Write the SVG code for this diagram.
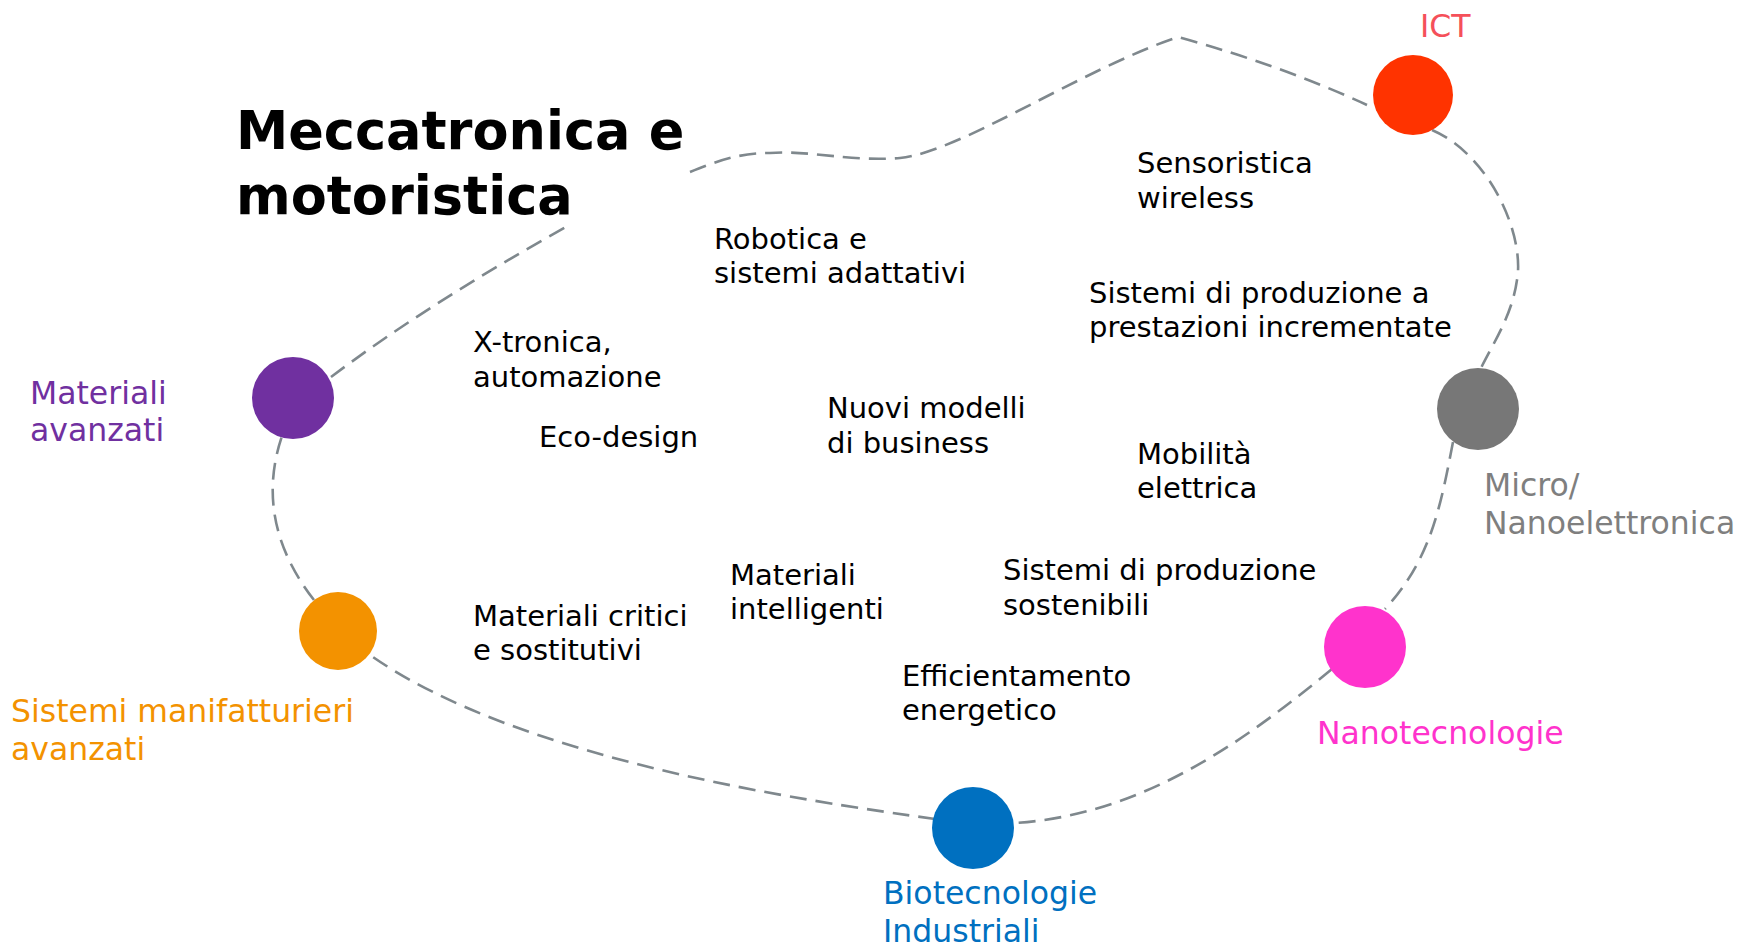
<svg xmlns="http://www.w3.org/2000/svg" width="1740" height="947" viewBox="0 0 1740 947">
<style>
.bg{fill:#ffffff}
.conn{fill:none;stroke:#7f888d;stroke-width:2.6;stroke-dasharray:17 9}
.t{font-family:"DejaVu Sans","Liberation Sans",sans-serif;font-size:29px;fill:#000}
.c{font-family:"DejaVu Sans","Liberation Sans",sans-serif;font-size:31.5px}
.title{font-family:"DejaVu Sans","Liberation Sans",sans-serif;font-size:52.5px;font-weight:bold;fill:#000}
</style>
<rect class="bg" x="0" y="0" width="1740" height="947"/>
<g id="connectors">
<path class="conn" d="M 690 172 C 720 160, 740 153, 770 153 C 810 150, 850 162, 900 158 C 960 152, 1080 70, 1178 37 Q 1280 65, 1367 105"/>
<path class="conn" d="M 1432 130 C 1490 155, 1525 235, 1517 280 C 1512 315, 1495 340, 1481 368"/>
<path class="conn" d="M 1453 442 C 1440 510, 1430 560, 1385 609"/>
<path class="conn" d="M 1332 669 C 1240 745, 1140 815, 1015 823"/>
<path class="conn" d="M 935 819 C 800 800, 520 760, 370 655"/>
<path class="conn" d="M 314 600 C 275 550, 262 495, 282 436"/>
<path class="conn" d="M 331 377 C 400 325, 480 275, 566 227"/>
</g>
<g id="title"><text class="title" x="236" y="149">Meccatronica e</text><text class="title" x="236" y="214">motoristica</text></g>
<g id="ict"><circle cx="1413" cy="95" r="40" fill="#ff3300"/><text class="c" x="1420" y="37" fill="#f5505a">ICT</text></g>
<g id="micro"><circle cx="1478" cy="409" r="41" fill="#777777"/><text class="c" x="1484" y="496" fill="#7f7f7f">Micro/</text><text class="c" x="1484" y="534" fill="#7f7f7f">Nanoelettronica</text></g>
<g id="nano"><circle cx="1365" cy="647" r="41" fill="#ff33cc"/><text class="c" x="1317" y="744" fill="#ff33cc">Nanotecnologie</text></g>
<g id="bio"><circle cx="973" cy="828" r="41" fill="#0070c0"/><text class="c" x="883" y="904" fill="#0070c0">Biotecnologie</text><text class="c" x="883" y="942" fill="#0070c0">Industriali</text></g>
<g id="sistemi-manif"><circle cx="338" cy="631" r="39" fill="#f39200"/><text class="c" x="11" y="722" fill="#f39200">Sistemi manifatturieri</text><text class="c" x="11" y="760" fill="#f39200">avanzati</text></g>
<g id="materiali-avanzati"><circle cx="293" cy="398" r="41" fill="#7030a0"/><text class="c" x="30" y="404" fill="#7030a0">Materiali</text><text class="c" x="30" y="441" fill="#7030a0">avanzati</text></g>
<g id="topics">
<g id="sensoristica"><text class="t" x="1137" y="173">Sensoristica</text><text class="t" x="1137" y="208">wireless</text></g>
<g id="robotica"><text class="t" x="714" y="249">Robotica e</text><text class="t" x="714" y="283">sistemi adattativi</text></g>
<g id="sist-prestazioni"><text class="t" x="1089" y="303">Sistemi di produzione a</text><text class="t" x="1089" y="337">prestazioni incrementate</text></g>
<g id="xtronica"><text class="t" x="473" y="352">X-tronica,</text><text class="t" x="473" y="387">automazione</text></g>
<g id="nuovi-modelli"><text class="t" x="827" y="418">Nuovi modelli</text><text class="t" x="827" y="453">di business</text></g>
<g id="ecodesign"><text class="t" x="539" y="447">Eco-design</text></g>
<g id="mobilita"><text class="t" x="1137" y="464">Mobilità</text><text class="t" x="1137" y="498">elettrica</text></g>
<g id="sist-sostenibili"><text class="t" x="1003" y="580">Sistemi di produzione</text><text class="t" x="1003" y="615">sostenibili</text></g>
<g id="mat-intelligenti"><text class="t" x="730" y="585">Materiali</text><text class="t" x="730" y="619">intelligenti</text></g>
<g id="mat-critici"><text class="t" x="473" y="626">Materiali critici</text><text class="t" x="473" y="660">e sostitutivi</text></g>
<g id="efficientamento"><text class="t" x="902" y="686">Efficientamento</text><text class="t" x="902" y="720">energetico</text></g>
</g>
</svg>
